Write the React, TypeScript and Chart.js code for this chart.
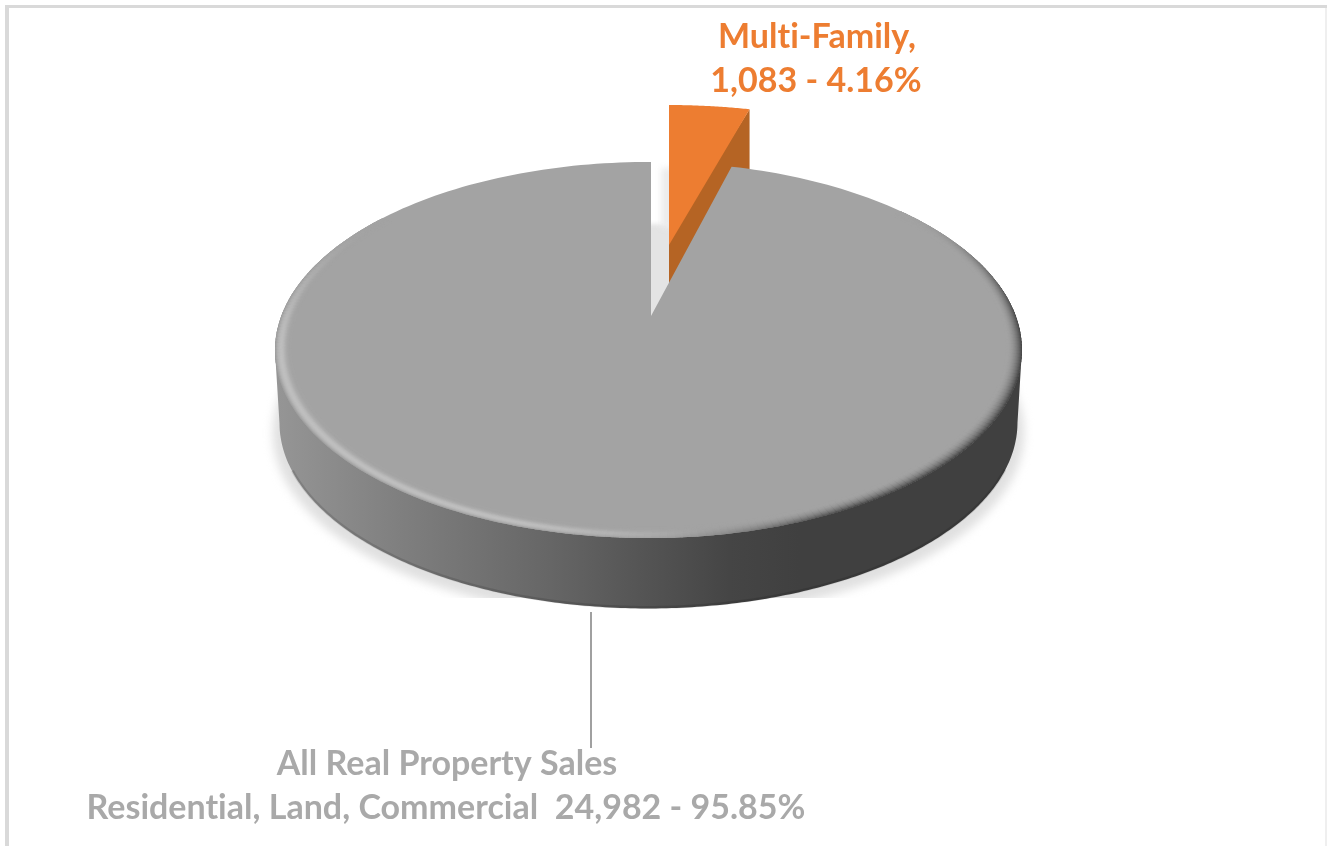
import React, { useEffect, useRef } from "react";
import { Chart, registerables } from "chart.js";

Chart.register(...registerables);

const categories = ["Multi-Family", "All Real Property Sales"];
const salesCounts = [1083, 24982];
const sliceColors = ["#ED7D31", "#A3A3A3"];
const orangeLabelLines = ["Multi-Family,", "1,083 - 4.16%"];
const grayLabelLines = ["All Real Property Sales", "Residential, Land, Commercial  24,982 - 95.85%"];

const APEX_X = 651;
const APEX_Y = 316;
const A = 367.3;
const B = 181.9;
const K = 0.181;
const M = 0.0067;
const DEG = Math.PI / 180;

type Pt = [number, number];

function project(theta: number, r = 1): Pt {
  const u = r * Math.sin(theta);
  const v = -r * Math.cos(theta);
  const w = 1 + M * u - K * v;
  return [APEX_X + (A * u) / w, APEX_Y + (B * v) / w];
}

function bottomRing(theta: number): Pt {
  const [x, y] = project(theta);
  return [APEX_X + (x - APEX_X) * 0.988, APEX_Y + 73 + (y - APEX_Y) * 0.988];
}

function orangeFace(theta: number, dy = 0): Pt {
  const [x, y] = project(theta);
  return [669 + (x - APEX_X), 245 + dy + (y - APEX_Y) * 0.909];
}

function tracePts(ctx: CanvasRenderingContext2D, pts: Pt[]) {
  ctx.beginPath();
  pts.forEach(([x, y], i) => (i ? ctx.lineTo(x, y) : ctx.moveTo(x, y)));
  ctx.closePath();
}

function sweep(a: number, b: number, fn: (t: number) => Pt, n = 240): Pt[] {
  const out: Pt[] = [];
  for (let i = 0; i <= n; i++) out.push(fn(a + ((b - a) * i) / n));
  return out;
}

// angle at which a ring reaches its horizontal extreme
function extremeAngle(fn: (t: number) => Pt, sign: number): number {
  let best = 0;
  let bestX = -Infinity;
  for (let d = 0; d < 360; d += 0.5) {
    const x = sign * fn(d * DEG)[0];
    if (x > bestX) {
      bestX = x;
      best = d;
    }
  }
  return best * DEG;
}

const smooth = (e0: number, e1: number, x: number) => {
  const t = Math.min(1, Math.max(0, (x - e0) / (e1 - e0)));
  return t * t * (3 - 2 * t);
};

function rimShade(deg: number, t: number): number {
  const h = smooth(168, 200, deg) * (1 - smooth(255, 305, deg));
  const d = smooth(50, 95, deg) * (1 - smooth(150, 182, deg));
  const peak = 28 * Math.exp(-(((t - 0.42) / 0.3) ** 2)) - (t < 0.2 ? 14 * (1 - t / 0.2) : 0);
  return 163 + h * peak - d * 99 * (1 - t) ** 2;
}

const pie3d = {
  id: "pie3d",
  beforeDatasetsDraw(chart: any) {
    const ctx: CanvasRenderingContext2D = chart.ctx;
    const [orange, gray] = chart.getDatasetMeta(0).data as any[];
    const q = Math.PI / 2;
    const oStart = orange.startAngle + q;
    const oEnd = orange.endAngle + q;
    const gStart = gray.startAngle + q;
    const gEnd = gray.endAngle + q;
    const [orangeColor, grayColor] = chart.data.datasets[0].backgroundColor;

    // frame
    ctx.fillStyle = "#d9d9d9";
    ctx.fillRect(5, 5, 1322, 3);
    ctx.fillRect(5, 5, 4, 841);
    ctx.fillStyle = "#efefef";
    ctx.fillRect(1325, 8, 2, 838);

    // soft shadow under the disc, cut at its lower bound
    ctx.save();
    ctx.beginPath();
    ctx.rect(240, 380, 820, 218);
    ctx.clip();
    ctx.filter = "blur(5px)";
    ctx.fillStyle = "#e0e0e0";
    tracePts(
      ctx,
      sweep(0, Math.PI * 2, (t) => {
        const [x, y] = bottomRing(t);
        return [APEX_X + (x - APEX_X) * 1.018, y + 10];
      })
    );
    ctx.fill();
    ctx.restore();

    // orange wall, running under the top face so no seam shows
    ctx.save();
    ctx.beginPath();
    ctx.rect(669, 0, 90, 400);
    ctx.clip();
    ctx.fillStyle = "#B56424";
    const right = orangeFace(oEnd);
    tracePts(ctx, [right, [669, 238], [669, 307], [right[0], right[1] + 62]]);
    ctx.fill();
    ctx.restore();

    // orange top face
    ctx.fillStyle = orangeColor;
    tracePts(ctx, [[669, 245], ...sweep(oStart, oEnd, (t) => orangeFace(t), 40)]);
    ctx.fill();

    // shadow in the gap
    ctx.save();
    ctx.beginPath();
    ctx.rect(651, 160, 18, 170);
    ctx.clip();
    ctx.fillStyle = "#e4e4e4";
    ctx.filter = "blur(2px)";
    tracePts(ctx, [[645, 224], [680, 224], [680, 340], [645, 340]]);
    ctx.fill();
    ctx.fillStyle = "#ececec";
    ctx.filter = "blur(3px)";
    ctx.fillRect(661, 168, 20, 60);
    ctx.restore();

    // gray wall
    const wall = ctx.createLinearGradient(279, 0, 1018, 0);
    wall.addColorStop(0, "#959595");
    wall.addColorStop(0.164, "#7f7f7f");
    wall.addColorStop(0.367, "#666666");
    wall.addColorStop(0.488, "#555555");
    wall.addColorStop(0.61, "#454545");
    wall.addColorStop(0.705, "#404040");
    wall.addColorStop(1, "#404040");
    ctx.fillStyle = wall;
    const topR = extremeAngle(project, 1);
    const topL = extremeAngle(project, -1);
    const botR = extremeAngle(bottomRing, 1);
    const botL = extremeAngle(bottomRing, -1);
    tracePts(ctx, [project(topR), ...sweep(botR, botL, bottomRing), project(topL)]);
    ctx.fill();
    ctx.strokeStyle = "rgba(0,0,0,0.12)";
    ctx.lineWidth = 3;
    ctx.beginPath();
    sweep(115 * DEG, 245 * DEG, (t) => {
      const [x, y] = bottomRing(t);
      return [x, y - 1];
    }).forEach(([x, y], i) => (i ? ctx.lineTo(x, y) : ctx.moveTo(x, y)));
    ctx.stroke();

    // gray top face
    const topFace: Pt[] = [[APEX_X, APEX_Y], ...sweep(gStart, gEnd, (t) => project(t))];
    ctx.fillStyle = grayColor;
    tracePts(ctx, topFace);
    ctx.fill();

    // bevelled rim, kept inside the top face
    ctx.save();
    tracePts(ctx, topFace);
    ctx.clip();
    ctx.lineWidth = 2;
    ctx.lineCap = "round";
    for (let deg = 50; deg < 306; deg += 1) {
      for (let s = 0; s < 16; s++) {
        const t = s / 15;
        const r = 1 - 0.04 * t;
        const c = Math.round(rimShade(deg + 0.5, t));
        ctx.strokeStyle = `rgb(${c},${c},${c})`;
        const p0 = project(deg * DEG, r);
        const p1 = project((deg + 1) * DEG, r);
        ctx.beginPath();
        ctx.moveTo(p0[0], p0[1]);
        ctx.lineTo(p1[0], p1[1]);
        ctx.stroke();
      }
    }
    ctx.restore();

    // leader line
    ctx.strokeStyle = "#A0A0A0";
    ctx.lineWidth = 2;
    ctx.beginPath();
    ctx.moveTo(591, 612);
    ctx.lineTo(591, 748);
    ctx.stroke();

    // labels
    ctx.textAlign = "center";
    ctx.textBaseline = "alphabetic";
    ctx.font = "bold 34px Lato";
    (ctx as any).letterSpacing = "0.01px";
    ctx.fillStyle = orangeColor;
    ctx.fillText(orangeLabelLines[0], 817, 48);
    ctx.fillText(orangeLabelLines[1], 816, 92);
    ctx.fillStyle = "#A9A9A9";
    ctx.fillText(grayLabelLines[0], 447, 775);
    ctx.fillText(grayLabelLines[1], 446, 819);
    return false;
  },
};

export default function App() {
  const ref = useRef<HTMLCanvasElement | null>(null);
  useEffect(() => {
    const chart = new Chart(ref.current as HTMLCanvasElement, {
      type: "pie",
      data: {
        labels: categories,
        datasets: [{ data: salesCounts, backgroundColor: sliceColors, borderWidth: 0 }],
      },
      options: {
        animation: false,
        responsive: false,
        rotation: 0,
        plugins: { legend: { display: false }, tooltip: { enabled: false } },
      },
      plugins: [pie3d],
    } as any);
    return () => chart.destroy();
  }, []);
  return (
    <div style={{ position: "fixed", left: 0, top: 0, width: 1327, height: 846, background: "#fff", overflow: "hidden" }}>
      <canvas ref={ref} width={1327} height={846} style={{ display: "block", filter: "blur(0.5px)" }} />
    </div>
  );
}
